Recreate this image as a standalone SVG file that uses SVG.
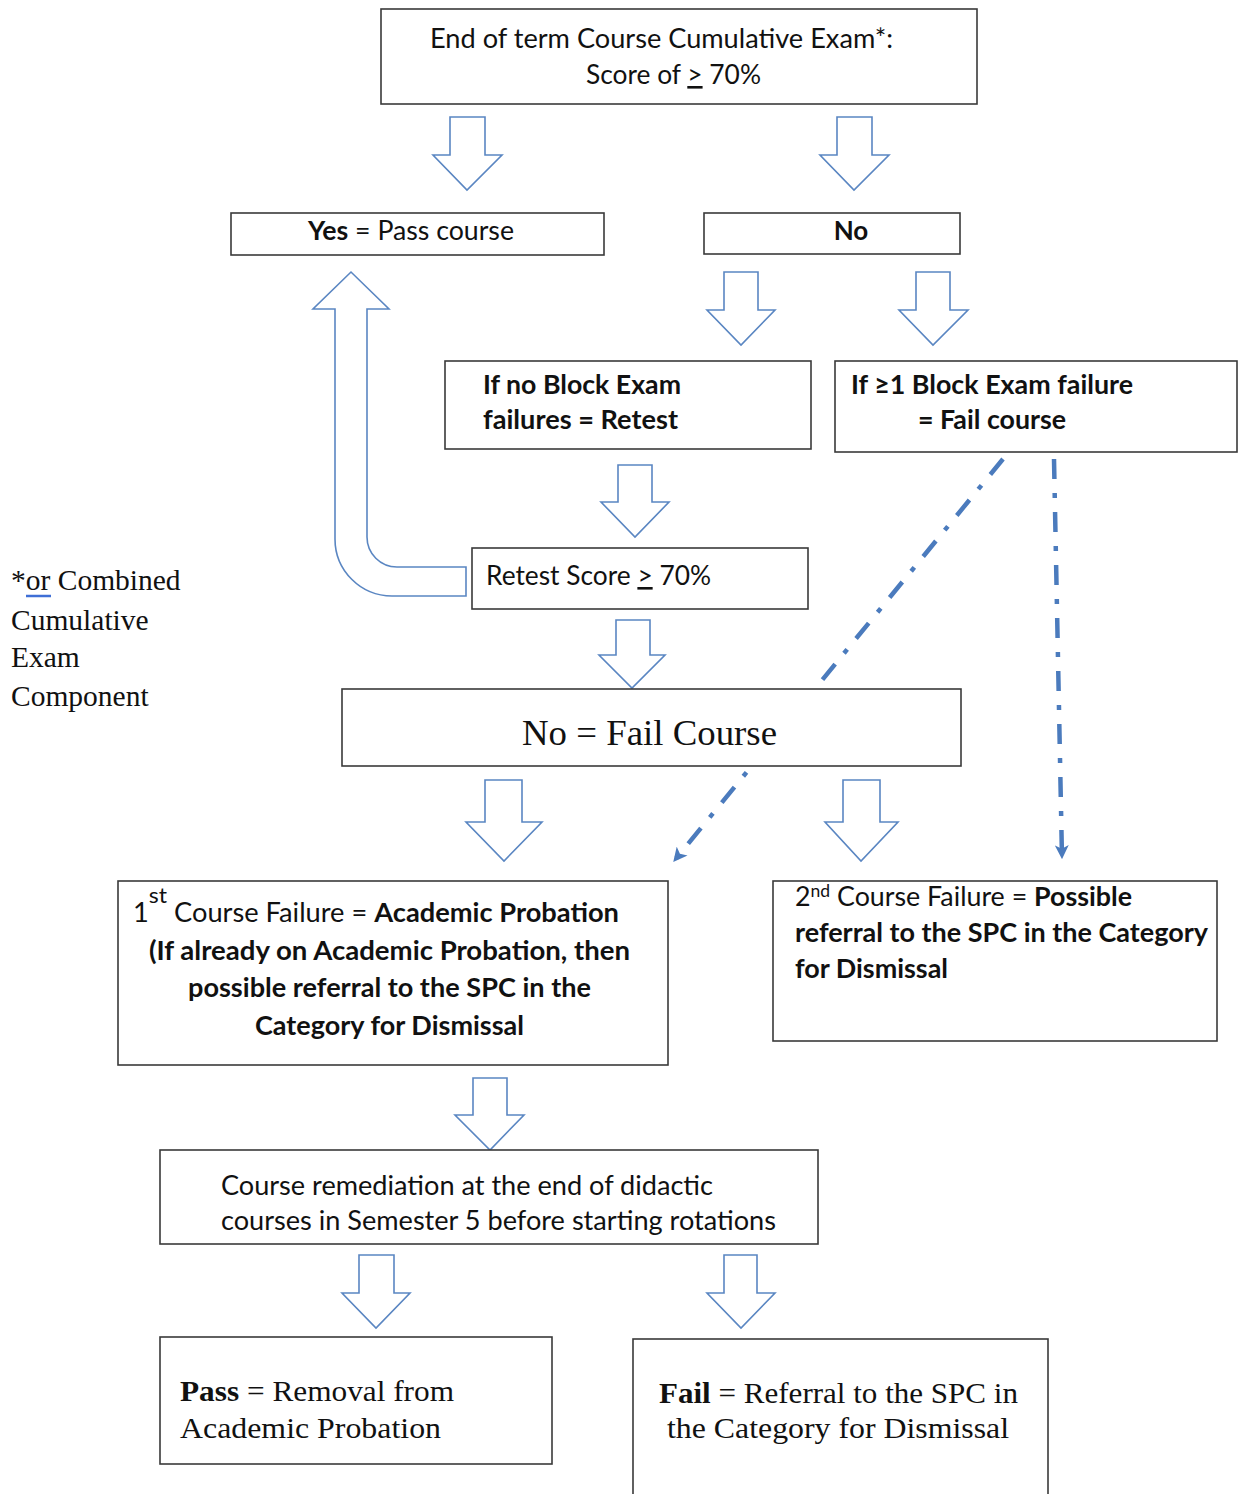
<svg xmlns="http://www.w3.org/2000/svg" width="1238" height="1494" viewBox="0 0 1238 1494">
<defs>
<style>
.box{fill:#ffffff;stroke:#3a3a3a;stroke-width:1.6}
.blk{fill:#ffffff;stroke:#5a86c2;stroke-width:1.6;stroke-linejoin:miter}
.dd{fill:none;stroke:#4b7bbd;stroke-width:4.5;stroke-dasharray:20 14 5 14}
.s{font-family:Lato,"Open Sans","Liberation Sans",sans-serif;font-size:26px;fill:#111}
.b{font-weight:bold}
.r{font-family:"Liberation Serif","DejaVu Serif",serif;fill:#111}
</style>
<marker id="ah" viewBox="0 0 12 12" refX="11" refY="6" markerWidth="14" markerHeight="14" markerUnits="userSpaceOnUse" orient="auto">
<path d="M0,0 L12,6 L0,12 L3,6 Z" fill="#4b7bbd"/>
</marker>
</defs>
<rect x="0" y="0" width="1238" height="1494" fill="#ffffff"/>

<g id="connectors">
<line class="dd" x1="1003" y1="459" x2="674" y2="861" marker-end="url(#ah)"/>
<line class="dd" x1="1054" y1="459" x2="1062" y2="858" marker-end="url(#ah)"/>
<path class="blk" d="M450,117 L485,117 L485,155 L502,155 L467,190 L433,155 L450,155 Z"/>
<path class="blk" d="M837,117 L872,117 L872,155 L889,155 L854,190 L820,155 L837,155 Z"/>
<path class="blk" d="M724,272 L758,272 L758,310 L775,310 L741,345 L707,310 L724,310 Z"/>
<path class="blk" d="M916,272 L950,272 L950,310 L968,310 L933,345 L899,310 L916,310 Z"/>
<path class="blk" d="M618,465 L652,465 L652,502 L669,502 L635,537 L601,502 L618,502 Z"/>
<path class="blk" d="M616,620 L650,620 L650,655 L665,655 L632,688 L599,655 L616,655 Z"/>
<path class="blk" d="M485,780 L522,780 L522,822 L542,822 L504,861 L466,822 L485,822 Z"/>
<path class="blk" d="M843,780 L880,780 L880,822 L898,822 L861,861 L825,822 L843,822 Z"/>
<path class="blk" d="M473,1078 L507,1078 L507,1115 L524,1115 L490,1150 L455,1115 L473,1115 Z"/>
<path class="blk" d="M359,1255 L394,1255 L394,1293 L410,1293 L376,1328 L342,1293 L359,1293 Z"/>
<path class="blk" d="M724,1255 L757,1255 L757,1293 L775,1293 L741,1328 L707,1293 L724,1293 Z"/>
<path class="blk" d="M466,596 L392,596 A57,57 0 0 1 335,539 L335,309 L313,309 L351,272 L389,309 L367,309 L367,537 A30,30 0 0 0 397,567 L466,567 Z"/>
</g>

<g id="node-exam">
<rect class="box" x="381" y="9" width="596" height="95"/>
<text class="s" x="430" y="48" textLength="463" lengthAdjust="spacingAndGlyphs">End of term Course Cumulative Exam*:</text>
<text class="s" x="586" y="84" textLength="175" lengthAdjust="spacingAndGlyphs">Score of <tspan text-decoration="underline">&gt;</tspan> 70%</text>
</g>

<g id="node-yes">
<rect class="box" x="231" y="213" width="373" height="42"/>
<text class="s" x="308" y="240" textLength="206" lengthAdjust="spacingAndGlyphs"><tspan class="b">Yes</tspan> = Pass course</text>
</g>

<g id="node-no">
<rect class="box" x="704" y="213" width="256" height="41"/>
<text class="s b" x="851" y="240" text-anchor="middle">No</text>
</g>

<g id="node-retest-branch">
<rect class="box" x="445" y="361" width="366" height="88"/>
<text class="s b" x="483" y="394" textLength="198" lengthAdjust="spacingAndGlyphs">If no Block Exam</text>
<text class="s b" x="483" y="429" textLength="195" lengthAdjust="spacingAndGlyphs">failures = Retest</text>
</g>

<g id="node-fail-branch">
<rect class="box" x="835" y="361" width="402" height="91"/>
<text class="s b" x="851" y="394" textLength="282" lengthAdjust="spacingAndGlyphs">If ≥1 Block Exam failure</text>
<text class="s b" x="918" y="429" textLength="148" lengthAdjust="spacingAndGlyphs">= Fail course</text>
</g>

<g id="node-retest">
<rect class="box" x="472" y="548" width="336" height="61"/>
<text class="s" x="486" y="585" textLength="225" lengthAdjust="spacingAndGlyphs">Retest Score <tspan text-decoration="underline">&gt;</tspan> 70%</text>
</g>

<g id="node-note">
<text class="r" font-size="29.5" x="11" y="590">*<tspan>or</tspan> Combined</text>
<line x1="26" y1="596" x2="51" y2="596" stroke="#3f6fd6" stroke-width="2.5"/>
<text class="r" font-size="29.5" x="11" y="630">Cumulative</text>
<text class="r" font-size="29.5" x="11" y="667">Exam</text>
<text class="r" font-size="29.5" x="11" y="706">Component</text>
</g>

<g id="node-failcourse">
<rect class="box" x="342" y="689" width="619" height="77"/>
<text class="r" font-size="36" x="522" y="745" textLength="255" lengthAdjust="spacingAndGlyphs">No = Fail Course</text>
</g>

<g id="node-first">
<rect class="box" x="118" y="881" width="550" height="184"/>
<text class="s" x="133" y="922" textLength="486" lengthAdjust="spacingAndGlyphs">1<tspan font-size="22" dy="-19">st</tspan><tspan dy="19"> Course Failure = </tspan><tspan class="b">Academic Probation</tspan></text>
<text class="s b" x="149" y="960" textLength="481" lengthAdjust="spacingAndGlyphs">(If already on Academic Probation, then</text>
<text class="s b" x="188" y="997" textLength="403" lengthAdjust="spacingAndGlyphs">possible referral to the SPC in the</text>
<text class="s b" x="255" y="1035" textLength="269" lengthAdjust="spacingAndGlyphs">Category for Dismissal</text>
</g>

<g id="node-second">
<rect class="box" x="773" y="881" width="444" height="160"/>
<text class="s" x="795" y="906" textLength="337" lengthAdjust="spacingAndGlyphs">2<tspan font-size="17" dy="-9">nd</tspan><tspan dy="9"> Course Failure = </tspan><tspan class="b">Possible</tspan></text>
<text class="s b" x="795" y="942" textLength="413" lengthAdjust="spacingAndGlyphs">referral to the SPC in the Category</text>
<text class="s b" x="795" y="978" textLength="153" lengthAdjust="spacingAndGlyphs">for Dismissal</text>
</g>

<g id="node-remediation">
<rect class="box" x="160" y="1150" width="658" height="94"/>
<text class="s" x="221" y="1195" textLength="492" lengthAdjust="spacingAndGlyphs">Course remediation at the end of didactic</text>
<text class="s" x="221" y="1230" textLength="555" lengthAdjust="spacingAndGlyphs">courses in Semester 5 before starting rotations</text>
</g>

<g id="node-pass">
<rect class="box" x="160" y="1337" width="392" height="127"/>
<text class="r" font-size="29" x="180" y="1401" textLength="274" lengthAdjust="spacingAndGlyphs"><tspan font-weight="bold">Pass</tspan> = Removal from</text>
<text class="r" font-size="29" x="180" y="1438" textLength="261" lengthAdjust="spacingAndGlyphs">Academic Probation</text>
</g>

<g id="node-fail">
<rect class="box" x="633" y="1339" width="415" height="170"/>
<text class="r" font-size="29" x="659" y="1403" textLength="359" lengthAdjust="spacingAndGlyphs"><tspan font-weight="bold">Fail</tspan> = Referral to the SPC in</text>
<text class="r" font-size="29" x="667" y="1438" textLength="342" lengthAdjust="spacingAndGlyphs">the Category for Dismissal</text>
</g>
</svg>
